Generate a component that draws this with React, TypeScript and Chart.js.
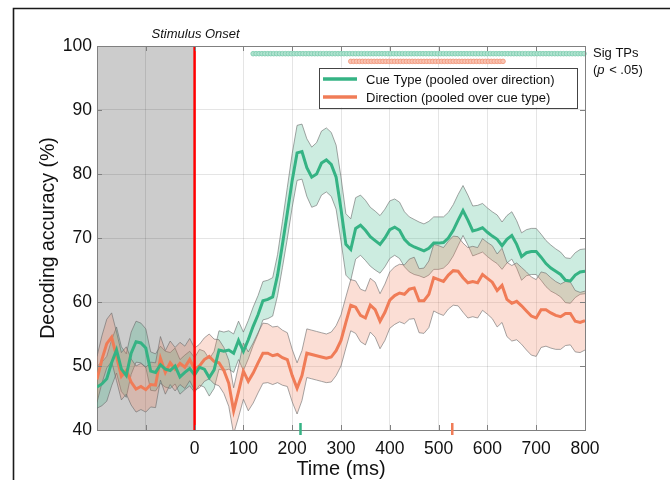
import React, { useEffect, useRef } from 'react';
import { Chart, registerables } from 'chart.js';

Chart.register(...registerables);

// ---------------- data ----------------
const TIME_START = -200;
const TIME_STEP = 10;

// Cue Type (pooled over direction): mean decoding accuracy (%) every 10 ms, -200..800
const cueTypeMean = [
  46.7, 47.2, 48.0, 50.5, 52.5, 49.5, 48.5, 52.0, 53.8, 53.6,
  52.8, 49.2, 49.0, 50.2, 49.5, 49.3, 50.0, 48.3, 49.0, 49.6,
  48.6, 49.8, 49.5, 48.2, 49.4, 52.5, 52.3, 52.5, 52.0, 54.0,
  52.3, 54.1, 56.2, 58.0, 60.2, 60.4, 60.8, 64.2, 69.0, 73.9,
  79.0, 83.3, 83.5, 81.0, 79.5, 80.0, 81.7, 82.2, 81.5, 79.5,
  74.5, 69.0, 68.2, 71.5, 72.0, 71.2, 70.2, 69.6, 69.0, 70.0,
  71.3, 71.7, 71.2, 69.8, 69.0, 68.6, 68.3, 68.0, 68.4, 69.2,
  69.2, 69.3, 70.0, 71.2, 72.8, 74.3, 72.8, 71.1, 71.3, 71.6,
  70.9, 70.3, 69.8, 68.8, 69.8, 70.4, 69.0, 67.1, 67.7, 67.9,
  67.9, 67.0, 66.0, 65.3, 64.8, 64.3, 63.4, 63.3, 64.2, 64.7,
  64.8,
];
const cueTypeSem = [
  3.3, 3.4, 3.5, 3.6, 3.6, 3.5, 3.4, 3.3, 3.2, 3.1,
  3.0, 3.0, 2.9, 2.9, 2.8, 2.8, 2.8, 2.7, 2.7, 2.7,
  2.7, 2.8, 2.8, 2.9, 2.9, 3.0, 3.0, 3.0, 3.0, 3.0,
  3.0, 3.0, 3.0, 3.0, 3.0, 3.0, 3.0, 3.2, 3.6, 4.0,
  4.2, 4.3, 4.3, 4.5, 4.7, 4.9, 5.0, 5.0, 5.0, 5.0,
  5.0, 4.8, 4.8, 4.8, 4.7, 4.7, 4.6, 4.6, 4.5, 4.5,
  4.5, 4.4, 4.4, 4.3, 4.3, 4.3, 4.2, 4.2, 4.2, 4.1,
  4.1, 4.0, 4.0, 4.0, 4.0, 3.9, 3.9, 3.9, 3.8, 3.8,
  3.8, 3.8, 3.8, 3.7, 3.7, 3.7, 3.7, 3.7, 3.6, 3.6,
  3.6, 3.6, 3.6, 3.6, 3.5, 3.5, 3.5, 3.5, 3.5, 3.5,
  3.5,
];

// Direction (pooled over cue type)
const directionMean = [
  47.9, 51.0, 53.5, 54.5, 51.5, 48.4, 49.3, 47.5, 46.4, 46.8,
  46.3, 47.1, 47.0, 51.2, 49.0, 50.5, 49.5, 50.4, 49.8, 51.0,
  49.5, 50.0, 51.0, 51.5, 50.7, 50.5, 49.3, 47.3, 43.0, 46.0,
  49.2, 47.6, 48.9, 50.5, 52.0, 52.0, 51.6, 51.8, 51.3, 51.0,
  48.5, 46.5, 48.5, 52.0, 51.8, 51.6, 51.4, 51.2, 51.4, 52.4,
  54.0, 56.8, 59.5, 59.2, 57.9, 57.5, 59.5, 58.8, 57.0, 58.4,
  60.3, 61.0, 61.4, 61.2, 62.0, 62.2, 60.2, 60.2, 61.2, 63.8,
  63.5, 63.2, 64.2, 64.9, 64.8, 63.8, 63.0, 63.2, 63.0, 64.3,
  63.7, 63.1, 61.8, 62.6, 60.4, 59.8, 60.1, 59.4, 58.6, 57.8,
  57.5, 58.8, 58.8, 58.3, 57.9, 57.7, 58.2, 58.2, 57.0, 56.8,
  57.1,
];
const directionSem = [
  3.6, 3.7, 3.8, 3.8, 3.8, 3.7, 3.7, 3.6, 3.6, 3.6,
  3.5, 3.5, 3.5, 3.4, 3.4, 3.4, 3.4, 3.3, 3.3, 3.3,
  3.3, 3.4, 3.4, 3.5, 3.5, 3.6, 3.6, 3.6, 3.6, 4.0,
  4.4, 4.6, 4.7, 4.7, 4.7, 4.6, 4.5, 4.4, 4.3, 4.2,
  4.1, 4.0, 3.9, 3.8, 3.8, 3.8, 3.8, 3.8, 3.9, 3.9,
  4.0, 4.0, 4.0, 4.1, 4.1, 4.2, 4.2, 4.3, 4.3, 4.4,
  4.4, 4.5, 4.5, 4.6, 4.7, 4.8, 5.0, 5.1, 5.2, 5.2,
  5.3, 5.3, 5.3, 5.4, 5.4, 5.4, 5.5, 5.5, 5.5, 5.6,
  5.6, 5.7, 5.7, 5.8, 5.8, 5.9, 6.0, 6.0, 6.1, 6.1,
  6.0, 5.9, 5.7, 5.5, 5.3, 5.1, 5.0, 4.9, 4.8, 4.7,
  4.6,
];

const seriesLabels = ['Cue Type (pooled over direction)', 'Direction (pooled over cue type)'];

// significant time points (ms), start / end of each run, and row height (%)
const sigCueType = [120, 800];
const sigDirection = [320, 635];
const sigRowLevel = [98.8, 97.6];
const SIG_STEP = 6;

// peak latency markers (ms)
const peakLatency = [217, 528];

// baseline window & onset
const baselineWindow = [-200, 0];
const stimulusOnset = 0;

// axes
const xRange = [-200, 800];
const yRange = [40, 100];

// ---------------- styles ----------------
const GREEN = '#35b384';
const ORANGE = '#f07c57';
const GREEN_FILL = 'rgba(53,179,132,0.25)';
const ORANGE_FILL = 'rgba(240,124,87,0.25)';
const EDGE = 'rgba(105,105,105,0.75)';
const AXIS = '#808080';
const FONT = '"Liberation Sans", Arial, Helvetica, sans-serif';

const times = cueTypeMean.map((_, i) => TIME_START + i * TIME_STEP);
const pts = (vals: number[]) => vals.map((v, i) => ({ x: times[i], y: v }));
const band = (m: number[], s: number[], sign: number) =>
  m.map((v, i) => ({ x: times[i], y: v + sign * s[i] }));
const sigPoints = (range: number[], level: number) => {
  const out: { x: number; y: number }[] = [];
  for (let t = range[0]; t <= range[1]; t += SIG_STEP) out.push({ x: t, y: level });
  return out;
};

const decorPlugin = {
  id: 'decor',
  beforeDraw(chart: any) {
    const { ctx, chartArea: ca, scales } = chart;
    const x = scales.x;
    const x0 = x.getPixelForValue(baselineWindow[0]);
    const x1 = x.getPixelForValue(baselineWindow[1]);
    ctx.save();
    ctx.fillStyle = '#cccccc';
    ctx.fillRect(x0, ca.top, x1 - x0, ca.bottom - ca.top);
    ctx.restore();
  },
  afterDatasetsDraw(chart: any) {
    const { ctx, chartArea: ca, scales } = chart;
    const xo = scales.x.getPixelForValue(stimulusOnset);
    ctx.save();
    ctx.strokeStyle = '#ff0000';
    ctx.lineWidth = 2.5;
    ctx.beginPath();
    ctx.moveTo(xo, ca.top);
    ctx.lineTo(xo, ca.bottom);
    ctx.stroke();
    ctx.restore();
  },
  afterDraw(chart: any) {
    const { ctx, chartArea: ca, scales, width, height } = chart;
    const x = scales.x;
    const y = scales.y;
    ctx.save();
    // outer figure frame (left and top only)
    ctx.strokeStyle = '#1a1a1a';
    ctx.lineWidth = 1.6;
    ctx.beginPath();
    ctx.moveTo(13.5, height + 2);
    ctx.lineTo(13.5, 8.5);
    ctx.lineTo(width + 2, 8.5);
    ctx.stroke();

    // box top/right
    ctx.strokeStyle = AXIS;
    ctx.lineWidth = 1;
    ctx.beginPath();
    ctx.moveTo(ca.left, Math.round(ca.top) + 0.5);
    ctx.lineTo(ca.right, Math.round(ca.top) + 0.5);
    ctx.moveTo(Math.round(ca.right) + 0.5, ca.top);
    ctx.lineTo(Math.round(ca.right) + 0.5, ca.bottom);
    ctx.stroke();
    // inward ticks
    ctx.beginPath();
    x.ticks.forEach((t: any) => {
      const px = Math.round(x.getPixelForValue(t.value)) + 0.5;
      ctx.moveTo(px, ca.bottom);
      ctx.lineTo(px, ca.bottom - 5);
      ctx.moveTo(px, ca.top);
      ctx.lineTo(px, ca.top + 5);
    });
    y.ticks.forEach((t: any) => {
      const py = Math.round(y.getPixelForValue(t.value)) + 0.5;
      ctx.moveTo(ca.left, py);
      ctx.lineTo(ca.left + 5, py);
      ctx.moveTo(ca.right, py);
      ctx.lineTo(ca.right - 5, py);
    });
    ctx.stroke();

    // peak latency markers
    const peakColors = [GREEN, ORANGE];
    peakLatency.forEach((t, i) => {
      const px = x.getPixelForValue(t);
      ctx.strokeStyle = peakColors[i];
      ctx.lineWidth = 2.5;
      ctx.beginPath();
      ctx.moveTo(px, ca.bottom - 7);
      ctx.lineTo(px, ca.bottom + 5);
      ctx.stroke();
    });

    // legend
    const lx = ca.left + 222;
    const ly = ca.top + 21.5;
    const lw = 258;
    const lh = 40;
    ctx.fillStyle = '#ffffff';
    ctx.fillRect(lx, ly, lw, lh);
    ctx.strokeStyle = '#444444';
    ctx.lineWidth = 1;
    ctx.strokeRect(Math.round(lx) + 0.5, Math.round(ly) + 0.5, lw, lh);
    const colors = [GREEN, ORANGE];
    ctx.font = `13px ${FONT}`;
    ctx.textBaseline = 'alphabetic';
    ctx.textAlign = 'left';
    seriesLabels.forEach((lab, i) => {
      const yy = ly + 11.5 + i * 18;
      ctx.strokeStyle = colors[i];
      ctx.lineWidth = 3.5;
      ctx.beginPath();
      ctx.moveTo(lx + 4, yy);
      ctx.lineTo(lx + 38, yy);
      ctx.stroke();
      ctx.fillStyle = '#111111';
      ctx.fillText(lab, lx + 47, yy + 4.7);
    });

    // annotations
    ctx.fillStyle = '#111111';
    ctx.font = `italic 13px ${FONT}`;
    ctx.textAlign = 'center';
    ctx.fillText('Stimulus Onset', x.getPixelForValue(stimulusOnset) + 1, 38);

    ctx.textAlign = 'left';
    ctx.font = `13px ${FONT}`;
    const tx = ca.right + 8;
    ctx.fillText('Sig TPs', tx, 57);
    let cx = tx;
    ctx.fillText('(', cx, 73.5);
    cx += ctx.measureText('(').width;
    ctx.font = `italic 13px ${FONT}`;
    ctx.fillText('p', cx, 73.5);
    cx += ctx.measureText('p').width + 1;
    ctx.font = `13px ${FONT}`;
    ctx.fillText(' < .05)', cx, 73.5);
    ctx.restore();
  },
};

export default function App() {
  const ref = useRef<HTMLCanvasElement>(null);
  useEffect(() => {
    if (!ref.current) return;
    const chart = new Chart(ref.current, {
      type: 'line',
      data: {
        datasets: [
          {
            label: seriesLabels[0],
            data: pts(cueTypeMean),
            borderColor: GREEN,
            borderWidth: 3,
            pointRadius: 0,
            tension: 0,
            order: 0,
          },
          {
            label: seriesLabels[1],
            data: pts(directionMean),
            borderColor: ORANGE,
            borderWidth: 3,
            pointRadius: 0,
            tension: 0,
            order: 1,
          },
          {
            label: 'cue lower',
            data: band(cueTypeMean, cueTypeSem, -1),
            borderColor: EDGE,
            borderWidth: 0.8,
            pointRadius: 0,
            tension: 0,
            fill: false,
            order: 4,
          },
          {
            label: 'cue upper',
            data: band(cueTypeMean, cueTypeSem, 1),
            borderColor: EDGE,
            borderWidth: 0.8,
            pointRadius: 0,
            tension: 0,
            backgroundColor: GREEN_FILL,
            fill: '-1',
            order: 4,
          },
          {
            label: 'dir lower',
            data: band(directionMean, directionSem, -1),
            borderColor: EDGE,
            borderWidth: 0.8,
            pointRadius: 0,
            tension: 0,
            fill: false,
            order: 3,
          },
          {
            label: 'dir upper',
            data: band(directionMean, directionSem, 1),
            borderColor: EDGE,
            borderWidth: 0.8,
            pointRadius: 0,
            tension: 0,
            backgroundColor: ORANGE_FILL,
            fill: '-1',
            order: 3,
          },
          {
            label: 'sig cue',
            data: sigPoints(sigCueType, sigRowLevel[0]),
            showLine: false,
            pointRadius: 2.3,
            pointBackgroundColor: '#b0e3d0',
            pointBorderColor: '#7fcdb0',
            pointBorderWidth: 0.9,
            clip: false as any,
            order: 2,
          },
          {
            label: 'sig dir',
            data: sigPoints(sigDirection, sigRowLevel[1]),
            showLine: false,
            pointRadius: 2.3,
            pointBackgroundColor: '#f9c3b1',
            pointBorderColor: '#f29b80',
            pointBorderWidth: 0.9,
            clip: false as any,
            order: 2,
          },
        ],
      },
      options: {
        responsive: false,
        animation: false,
        events: [],
        layout: { padding: { left: 0, right: 85, top: 46, bottom: 0 } },
        plugins: {
          legend: { display: false },
          tooltip: { enabled: false },
        },
        scales: {
          x: {
            type: 'linear',
            min: xRange[0],
            max: xRange[1],
            afterFit: (s: any) => {
              s.height = 50;
            },
            ticks: {
              stepSize: 100,
              color: '#111111',
              padding: 9,
              font: { family: FONT, size: 17.5 },
              maxRotation: 0,
              callback: (v: any) => (Number(v) < 0 ? '' : String(v)),
            },
            grid: { color: 'rgba(0,0,0,0.1)', drawTicks: false },
            border: { color: AXIS, width: 1 },
            title: {
              display: true,
              text: 'Time (ms)',
              color: '#111111',
              font: { family: FONT, size: 20, lineHeight: 1.1 },
              padding: { top: 0, bottom: 0 },
            },
          },
          y: {
            type: 'linear',
            min: yRange[0],
            max: yRange[1],
            afterFit: (s: any) => {
              s.width = 97;
            },
            ticks: {
              stepSize: 10,
              color: '#111111',
              padding: 5,
              font: { family: FONT, size: 17.5 },
            },
            grid: { color: 'rgba(0,0,0,0.1)', drawTicks: false },
            border: { color: AXIS, width: 1 },
            title: {
              display: true,
              text: 'Decoding accuracy (%)',
              color: '#111111',
              font: { family: FONT, size: 19.5, lineHeight: 1.2 },
              padding: { top: 37, bottom: 0 },
            },
          },
        },
      },
      plugins: [decorPlugin],
    } as any);
    return () => chart.destroy();
  }, []);

  return (
    <div style={{ position: 'absolute', left: 0, top: 0, width: 670, height: 480, background: '#ffffff' }}>
      <canvas ref={ref} width={670} height={480} style={{ position: 'absolute', left: 0, top: 0 }} />
    </div>
  );
}
